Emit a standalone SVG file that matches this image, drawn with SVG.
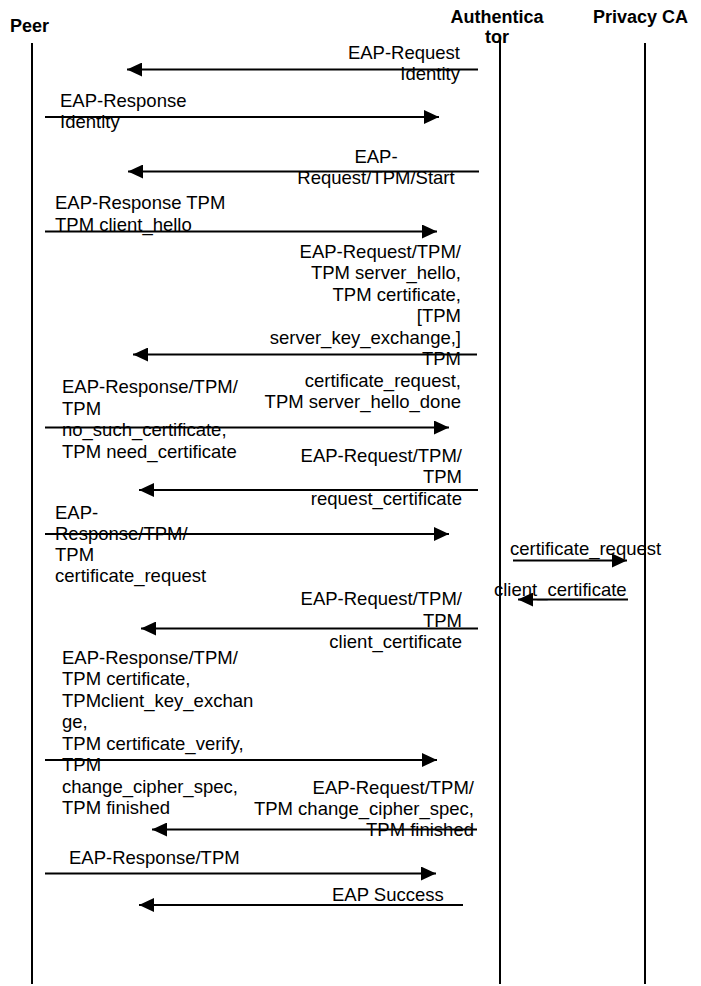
<svg xmlns="http://www.w3.org/2000/svg" width="701" height="986" viewBox="0 0 701 986">
<style>
text{font-family:"Liberation Sans",Arial,sans-serif;font-size:18.5px;fill:#000}
.hd{font-weight:bold;font-size:18px}
.life{stroke:#000;stroke-width:2;fill:none}
.msg{stroke:#000;stroke-width:2;fill:none;marker-end:url(#ah)}
.r{text-anchor:end}
.c{text-anchor:middle}
</style>
<defs>
<marker id="ah" markerUnits="userSpaceOnUse" markerWidth="16" markerHeight="14" refX="15" refY="7" orient="auto">
<path d="M0,0 L15,7 L0,14 Z" fill="#000"/>
</marker>
</defs>
<rect x="0" y="0" width="701" height="986" fill="#fff"/>
<g id="peer">
<text class="hd" x="10" y="32">Peer</text>
<line class="life" x1="32" y1="43" x2="32" y2="984"/>
</g>
<g id="authenticator">
<text class="hd c" x="497" y="23">Authentica</text>
<text class="hd c" x="497" y="43">tor</text>
<line class="life" x1="500" y1="37" x2="500" y2="984"/>
</g>
<g id="privacy-ca">
<text class="hd" x="593" y="23">Privacy CA</text>
<line class="life" x1="645" y1="43" x2="645" y2="984"/>
</g>
<g id="connectors">
<line class="msg" x1="478" y1="69.5" x2="127" y2="69.5"/>
<line class="msg" x1="45" y1="117" x2="439" y2="117"/>
<line class="msg" x1="479" y1="171.5" x2="128" y2="171.5"/>
<line class="msg" x1="45" y1="231.5" x2="437" y2="231.5"/>
<line class="msg" x1="477" y1="354.5" x2="133" y2="354.5"/>
<line class="msg" x1="45" y1="427.5" x2="449" y2="427.5"/>
<line class="msg" x1="478" y1="490" x2="139" y2="490"/>
<line class="msg" x1="45" y1="534" x2="449" y2="534"/>
<line class="msg" x1="513" y1="560.5" x2="627" y2="560.5"/>
<line class="msg" x1="628" y1="599.5" x2="518" y2="599.5"/>
<line class="msg" x1="478" y1="628.5" x2="141" y2="628.5"/>
<line class="msg" x1="45" y1="760" x2="437" y2="760"/>
<line class="msg" x1="477" y1="829.5" x2="152" y2="829.5"/>
<line class="msg" x1="45" y1="873.5" x2="436" y2="873.5"/>
<line class="msg" x1="463" y1="905" x2="139" y2="905"/>
</g>
<g id="labels">
<text class="r" x="460" y="58.5">EAP-Request<tspan x="460" dy="21.5">Identity</tspan></text>
<text x="60" y="106.5">EAP-Response<tspan x="60" dy="21.5">Identity</tspan></text>
<text class="c" x="376" y="162.5">EAP-<tspan x="376" dy="21.5">Request/TPM/Start</tspan></text>
<text x="55" y="209">EAP-Response TPM<tspan x="55" dy="21.5">TPM client_hello</tspan></text>
<text class="r" x="461" y="257.5">EAP-Request/TPM/<tspan x="461" dy="21.5">TPM server_hello,</tspan><tspan x="461" dy="21.5">TPM certificate,</tspan><tspan x="461" dy="21.5">[TPM</tspan><tspan x="461" dy="21.5">server_key_exchange,]</tspan><tspan x="461" dy="21.5">TPM</tspan><tspan x="461" dy="21.5">certificate_request,</tspan><tspan x="461" dy="21.5">TPM server_hello_done</tspan></text>
<text x="62" y="393">EAP-Response/TPM/<tspan x="62" dy="21.5">TPM</tspan><tspan x="62" dy="21.5">no_such_certificate,</tspan><tspan x="62" dy="21.5">TPM need_certificate</tspan></text>
<text class="r" x="462" y="461.5">EAP-Request/TPM/<tspan x="462" dy="21.5">TPM</tspan><tspan x="462" dy="21.5">request_certificate</tspan></text>
<text x="55" y="518.5">EAP-<tspan x="55" dy="21">Response/TPM/</tspan><tspan x="55" dy="21">TPM</tspan><tspan x="55" dy="21">certificate_request</tspan></text>
<text x="510" y="555">certificate_request</text>
<text x="494" y="596">client_certificate</text>
<text class="r" x="462" y="605">EAP-Request/TPM/<tspan x="462" dy="21.5">TPM</tspan><tspan x="462" dy="21.5">client_certificate</tspan></text>
<text x="62" y="663.5">EAP-Response/TPM/<tspan x="62" dy="21.5">TPM certificate,</tspan><tspan x="62" dy="21.5">TPMclient_key_exchan</tspan><tspan x="62" dy="21.5">ge,</tspan><tspan x="62" dy="21.5">TPM certificate_verify,</tspan><tspan x="62" dy="21.5">TPM</tspan><tspan x="62" dy="21.5">change_cipher_spec,</tspan><tspan x="62" dy="21.5">TPM finished</tspan></text>
<text class="r" x="474" y="794">EAP-Request/TPM/<tspan x="474" dy="21">TPM change_cipher_spec,</tspan><tspan x="474" dy="21">TPM finished</tspan></text>
<text x="69" y="864">EAP-Response/TPM</text>
<text x="332" y="900.5">EAP Success</text>
</g>
</svg>
